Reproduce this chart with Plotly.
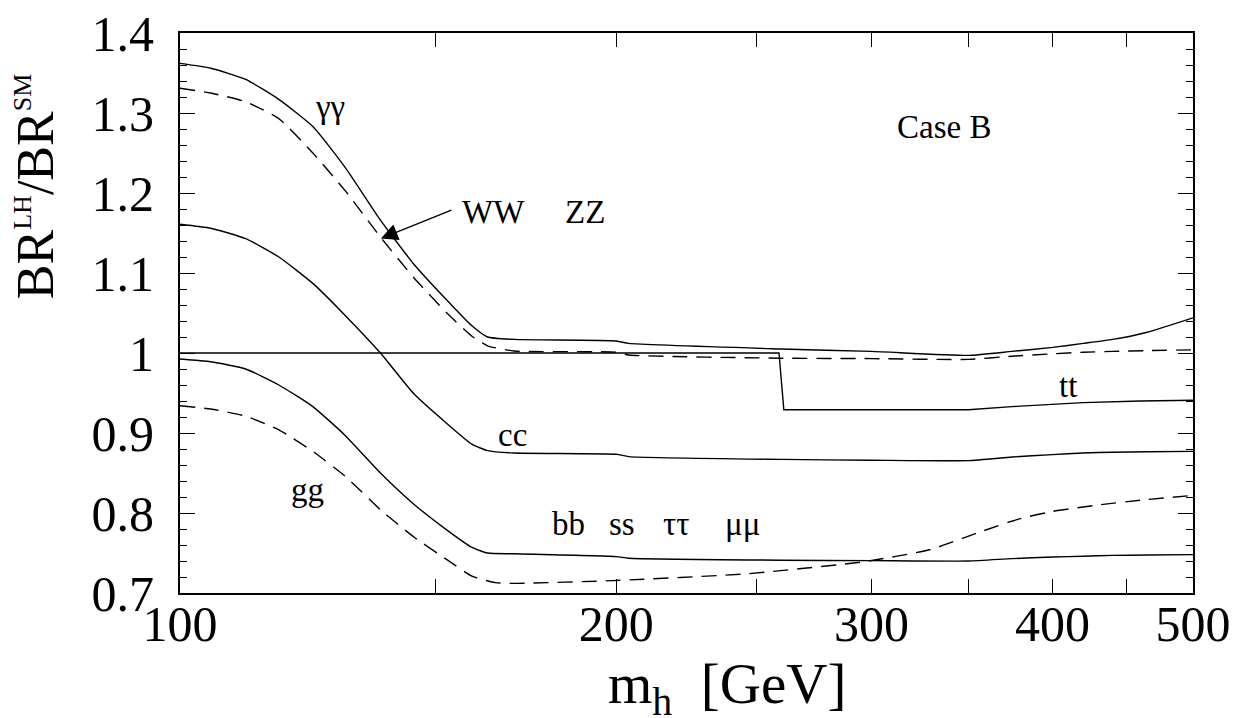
import math
import plotly.graph_objects as go

# ---------------- data ----------------
m_main = [100, 105, 111, 117, 123.5, 130, 137.5, 145, 153, 159, 163, 170, 200, 204, 260, 300, 350, 375, 400, 420, 440, 465, 500]

br_gamgam = [1.362, 1.356, 1.342, 1.317, 1.283, 1.232, 1.166, 1.111, 1.065, 1.034, 1.020, 1.017,
             1.015, 1.012, 1.005, 1.002, 0.997, 1.002, 1.007, 1.012, 1.017, 1.026, 1.044]

br_ww = [1.331, 1.325, 1.314, 1.293, 1.250, 1.203, 1.145, 1.094, 1.049, 1.021, 1.009, 1.0025,
         1.001, 0.9975, 0.9935, 0.993, 0.992, 0.996, 0.999, 1.001, 1.002, 1.003, 1.004]

br_cc = [1.161, 1.156, 1.143, 1.120, 1.087, 1.047, 1.000, 0.949, 0.911, 0.886, 0.878, 0.875,
         0.8735, 0.8705, 0.867, 0.866, 0.8655, 0.870, 0.873, 0.875, 0.876, 0.8765, 0.877]

br_bb = [0.9925, 0.989, 0.980, 0.960, 0.933, 0.897, 0.850, 0.811, 0.778, 0.757, 0.750, 0.749,
         0.7455, 0.7435, 0.741, 0.7405, 0.740, 0.743, 0.745, 0.746, 0.747, 0.7475, 0.748]

m_gg = [100, 105, 111, 117, 123.5, 130, 137.5, 145, 153, 159, 165, 170, 199, 246, 296, 329, 356, 380, 400, 430, 460, 500]
br_gg = [0.934, 0.930, 0.921, 0.904, 0.877, 0.846, 0.804, 0.770, 0.741, 0.721, 0.713, 0.712,
         0.7155, 0.724, 0.739, 0.754, 0.776, 0.793, 0.802, 0.810, 0.816, 0.822]

m_tt = [100, 259, 261, 350, 375, 420, 460, 500]
br_tt = [1.0, 1.0, 0.929, 0.929, 0.933, 0.938, 0.940, 0.941]

x_tickvals = [100, 200, 300, 400, 500]
x_ticktext = ["100", "200", "300", "400", "500"]
x_minorvals = [150, 250, 350, 450]
y_tickvals = [0.7, 0.8, 0.9, 1.0, 1.1, 1.2, 1.3, 1.4]
y_ticktext = ["0.7", "0.8", "0.9", "1", "1.1", "1.2", "1.3", "1.4"]

# channel labels: (text, mass, ratio)
labels = [
    ("γγ", 126.9, 1.3075),
    ("WW", 164.5, 1.176),
    ("ZZ", 190.3, 1.176),
    ("Case B", 336.5, 1.283),
    ("tt", 410.0, 0.959),
    ("cc", 169.7, 0.8975),
    ("gg", 122.4, 0.829),
    ("bb", 185.3, 0.786),
    ("ss", 201.9, 0.786),
    ("ττ", 220.1, 0.786),
    ("μμ", 244.4, 0.786),
]
arrow_tip = (137.6, 1.143)

# ---------------- figure ----------------
FONT = "Liberation Serif, Times New Roman, serif"
solid = dict(color="black", width=1.4, shape="spline", smoothing=0.5)
dashed = dict(color="black", width=1.4, dash="15px,9px", shape="spline", smoothing=0.5)

fig = go.Figure()
fig.add_trace(go.Scatter(x=m_main, y=br_gamgam, mode="lines", line=solid))
fig.add_trace(go.Scatter(x=m_main, y=br_ww, mode="lines", line=dashed))
fig.add_trace(go.Scatter(x=m_tt, y=br_tt, mode="lines", line=dict(color="black", width=1.4)))
fig.add_trace(go.Scatter(x=m_main, y=br_cc, mode="lines", line=solid))
fig.add_trace(go.Scatter(x=m_main, y=br_bb, mode="lines", line=solid))
fig.add_trace(go.Scatter(x=m_gg, y=br_gg, mode="lines", line=dashed))

ann = []
for txt, mx, vy in labels:
    ann.append(dict(x=math.log10(mx), y=vy, xref="x", yref="y", text=txt, showarrow=False,
                    font=dict(family=FONT, size=33, color="black"), xanchor="center", yanchor="middle"))
ann.append(dict(x=math.log10(arrow_tip[0]), y=arrow_tip[1], xref="x", yref="y", text="",
                showarrow=True, ax=72, ay=-29, arrowhead=2, arrowsize=2.4, arrowwidth=1.4,
                arrowcolor="black", standoff=0))
# axis titles
ann.append(dict(x=-0.143, y=0.725, xref="paper", yref="paper", textangle=-90,
                text="BR<sup><span style='font-size:26px'>LH</span></sup>/BR<sup><span style='font-size:26px'>SM</span></sup>",
                showarrow=False, font=dict(family=FONT, size=52, color="black"),
                xanchor="center", yanchor="middle"))
ann.append(dict(x=0.54, y=-0.17, xref="paper", yref="paper",
                text="m<sub>h</sub>  [GeV]", showarrow=False,
                font=dict(family=FONT, size=57, color="black"), xanchor="center", yanchor="middle"))

fig.update_layout(
    width=1239, height=718,
    margin=dict(l=180, r=46, t=33, b=125),
    paper_bgcolor="white", plot_bgcolor="white",
    showlegend=False,
    font=dict(family=FONT, size=50, color="black"),
    annotations=ann,
)
fig.update_xaxes(type="log", range=[2, math.log10(500)], tickvals=x_tickvals, ticktext=x_ticktext,
                 ticks="inside", ticklen=14, tickwidth=1.4, tickcolor="black",
                 minor=dict(tickmode="array", tickvals=x_minorvals, ticks="inside", ticklen=14,
                            tickwidth=1.4, tickcolor="black"),
                 showline=True, linewidth=2, linecolor="black", mirror="ticks",
                 showgrid=False, zeroline=False, ticklabelstandoff=-14, automargin=False,
                 tickfont=dict(family=FONT, size=50, color="black"))
fig.update_yaxes(range=[0.7, 1.4], tickvals=y_tickvals, ticktext=y_ticktext,
                 ticks="inside", ticklen=15, tickwidth=1.4, tickcolor="black",
                 minor=dict(dtick=0.02, ticks="inside", ticklen=7, tickwidth=1.4, tickcolor="black"),
                 showline=True, linewidth=2, linecolor="black", mirror="ticks",
                 showgrid=False, zeroline=False, ticklabelstandoff=14, automargin=False,
                 tickfont=dict(family=FONT, size=50, color="black"))

fig.write_html("out.html")
